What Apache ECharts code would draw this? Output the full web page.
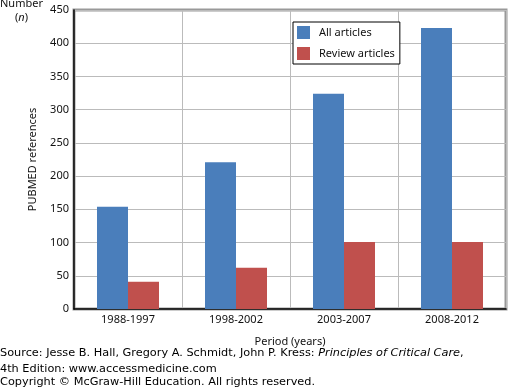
<!DOCTYPE html>
<html><head><meta charset="utf-8">
<script src="https://cdn.jsdelivr.net/npm/echarts@6/dist/echarts.min.js"></script>
<style>html,body{margin:0;padding:0;background:#fff}#c{width:510px;height:388px}</style>
</head><body><div id="c"></div>
<script>
const categories = ['1988-1997', '1998-2002', '2003-2007', '2008-2012'];
const allArticles = [154, 221, 324, 423];
const reviewArticles = [41, 62, 101, 101];
const seriesNames = ['All articles', 'Review articles'];
const yTicks = {min: 0, max: 450, interval: 50};

const chart = echarts.init(document.getElementById('c'), null, {renderer: 'canvas'});
const F = 'Noto Sans';
const FS = 11.3;
chart.setOption({
  animation: false,
  textStyle: {fontFamily: F},
  grid: {left: 74, right: 4, top: 10, bottom: 79, show: true, borderColor: '#999', borderWidth: 3, containLabel: false},
  legend: {
    data: seriesNames, orient: 'vertical', left: 293, top: 22,
    itemWidth: 13, itemHeight: 13, itemGap: 8, icon: 'rect',
    padding: [4, 5, 4, 4], borderColor: '#000', borderWidth: 1, backgroundColor: '#fff',
    textStyle: {fontFamily: F, fontSize: 11, color: '#111', padding: [0, 0, 0, 4], width: 78}
  },
  xAxis: {
    type: 'category', data: categories,
    name: 'Period (years)', nameLocation: 'middle', nameGap: 27,
    nameTextStyle: {fontFamily: F, fontSize: 11, color: '#111'},
    axisLine: {lineStyle: {color: '#000', width: 1.5}},
    axisTick: {show: false},
    axisLabel: {fontFamily: F, fontSize: 11, color: '#111', margin: 5},
    splitLine: {show: true, lineStyle: {color: '#bbb', width: 1}}
  },
  yAxis: {
    type: 'value', min: yTicks.min, max: yTicks.max, interval: yTicks.interval,
    name: 'PUBMED references', nameLocation: 'middle', nameGap: 36, nameRotate: 90,
    nameTextStyle: {fontFamily: F, fontSize: 11, color: '#111'},
    axisLine: {show: true, lineStyle: {color: '#000', width: 1.5}},
    axisTick: {show: false},
    axisLabel: {fontFamily: F, fontSize: 11, color: '#111', margin: 5},
    splitLine: {lineStyle: {color: '#bbb', width: 1}}
  },
  series: [
    {name: seriesNames[0], type: 'bar', data: allArticles, barWidth: 31, barGap: '0%', itemStyle: {color: '#4A7EBB'}},
    {name: seriesNames[1], type: 'bar', data: reviewArticles, barWidth: 31, barGap: '0%', itemStyle: {color: '#C0504D'}}
  ],
  graphic: [
    {type: 'text', left: 0, top: -2, style: {text: 'Number', fontFamily: F, fontSize: 11, fill: '#111'}},
    {type: 'text', left: 15, top: 12, style: {text: '{a|(}{i|n}{a|)}', rich: {a: {fontFamily: F, fontSize: 11, fill: '#111'}, i: {fontFamily: F, fontSize: 11, fontStyle: 'italic', fill: '#111'}}}},
    {type: 'text', left: 0, top: 348, style: {
      text: 'Source: Jesse B. Hall, Gregory A. Schmidt, John P. Kress: {i|Principles of Critical Care}{a|,}',
      fontFamily: 'DejaVu Sans', fontSize: FS, fill: '#000',
      rich: {i: {fontFamily: 'DejaVu Sans', fontSize: FS, fontStyle: 'italic', fill: '#000'}, a: {fontFamily: 'DejaVu Sans', fontSize: FS, fill: '#000'}}
    }},
    {type: 'text', left: 0, top: 364, style: {text: '4th Edition: www.accessmedicine.com', fontFamily: 'DejaVu Sans', fontSize: FS, fill: '#000'}},
    {type: 'text', left: 0, top: 377, style: {text: 'Copyright \u00A9 McGraw-Hill Education. All rights reserved.', fontFamily: 'DejaVu Sans', fontSize: FS, fill: '#000'}}
  ]
});
</script></body></html>
